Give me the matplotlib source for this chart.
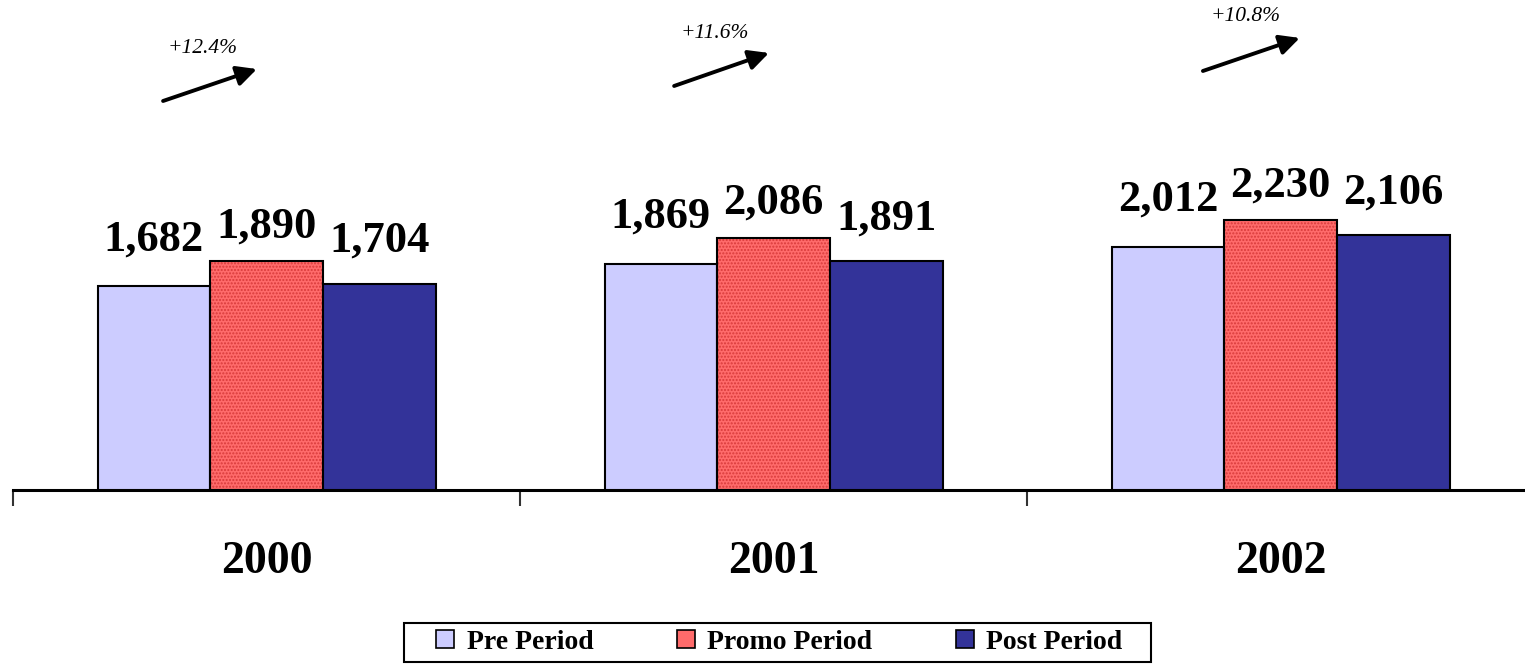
import matplotlib
matplotlib.use("Agg")
import numpy as np
import matplotlib.pyplot as plt
from matplotlib.patches import Patch, Rectangle
from matplotlib.transforms import blended_transform_factory

years = ["2000", "2001", "2002"]
series = ["Pre Period", "Promo Period", "Post Period"]
pre = [1682, 1869, 2012]
promo = [1890, 2086, 2230]
post = [1704, 1891, 2106]

colors = ["#CCCCFF", "#FF6B6B", "#333399"]
label_lift = [26, 17, 23]   # label offset above bar top, points
serif = "Liberation Serif"

# arrow placement per year: (start dx, start y, end dx, end y, text dx, text y)
arrow_pos = [
    (-0.204, 3215, -0.019, 3479, -0.127, 3645),
    (-0.196, 3339, -0.009, 3612, -0.115, 3769),
    (-0.153, 3463, 0.038, 3736, -0.068, 3917),
]

W, H = 1525, 668
fig = plt.figure(figsize=(W / 100, H / 100), dpi=100)
ax = fig.add_axes([13 / W, 178 / H, 1521 / W, 484 / H])

x = np.arange(len(years))
w = 1 / 4.5
vals = [pre, promo, post]
for i, v in enumerate(vals):
    xs = x + (i - 1) * w
    if i == 1:
        # dotted fill for the promo bars
        ax.bar(xs, v, w, color=colors[i], edgecolor="#D83A3A", hatch=".....",
               linewidth=0, zorder=2)
        ax.bar(xs, v, w, facecolor="none", edgecolor="black", linewidth=1.5,
               zorder=3)
    else:
        ax.bar(xs, v, w, color=colors[i], edgecolor="black", linewidth=1.5,
               zorder=3)
    for xi, vi in zip(xs, v):
        ax.annotate(f"{vi:,}", (xi, vi), xytext=(0, label_lift[i]),
                    textcoords="offset points", ha="center", va="baseline",
                    fontsize=32, fontweight="bold", family=serif)

# growth arrows, promo vs pre
for j in range(len(years)):
    sx, sy, ex, ey, tx, ty = arrow_pos[j]
    ax.annotate("", xy=(x[j] + ex, ey), xytext=(x[j] + sx, sy),
                arrowprops=dict(arrowstyle="-|>", color="black", lw=2.8,
                                mutation_scale=30, shrinkA=0, shrinkB=0),
                annotation_clip=False)
    pct = (promo[j] / pre[j] - 1) * 100
    ax.text(x[j] + tx, ty, f"+{pct:.1f}%", ha="center", va="center",
            fontsize=15.5, style="italic", family=serif, clip_on=False)

ax.set_xlim(-0.5, 2.5)
ax.set_ylim(0, 4000)
for s in ["top", "right", "left"]:
    ax.spines[s].set_visible(False)
ax.spines["bottom"].set_linewidth(2.2)
ax.set_yticks([])
ax.set_xticks([-0.5, 0.5, 1.5, 2.5])
ax.set_xticklabels([])
ax.tick_params(axis="x", direction="out", length=11.5, width=1.5, color="#333333")

trans = blended_transform_factory(ax.transData, ax.transAxes)
for xi, yr in zip(x, years):
    ax.text(xi, -0.1715, yr, transform=trans, ha="center", va="baseline",
            fontsize=33, fontweight="bold", family=serif)

# legend with its own box
fig.patches.append(Rectangle((404 / W, (H - 662) / H), 747 / W, 39 / H,
                             transform=fig.transFigure, facecolor="white",
                             edgecolor="black", linewidth=1.5, zorder=0))
handles = [Patch(facecolor=c, edgecolor="black", linewidth=1.2) for c in colors]
leg = fig.legend(handles, series, loc="center", ncol=3,
                 bbox_to_anchor=(779.5 / W, (H - 642.5) / H),
                 prop={"family": serif, "weight": "bold", "size": 20},
                 frameon=False, handlelength=0.65, handleheight=0.6,
                 handletextpad=0.45, columnspacing=3.0, borderpad=0,
                 borderaxespad=0)

fig.savefig("out.png", dpi=100)
